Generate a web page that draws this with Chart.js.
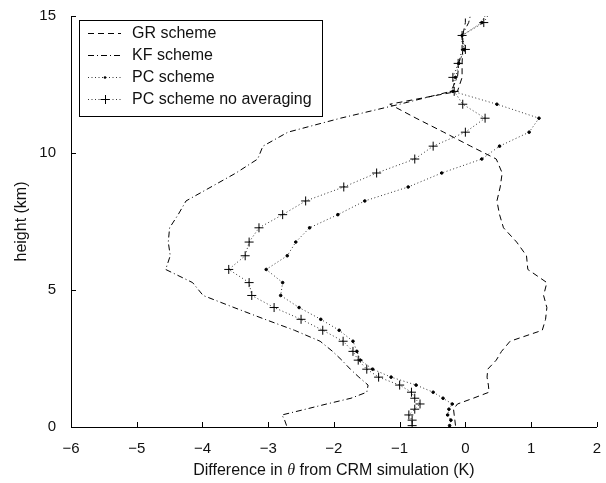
<!DOCTYPE html>
<html>
<head>
<meta charset="utf-8">
<script src="https://cdn.jsdelivr.net/npm/chart.js@4"></script>
<style>
html,body{margin:0;padding:0;background:#fff;}
#wrap{width:606px;height:483px;position:relative;}
</style>
</head>
<body>
<div id="wrap"><canvas id="c" width="606" height="483"></canvas></div>
<script>
// ---- data ----
const heights = [0.05, 0.25, 0.44, 0.65, 0.84, 1.05, 1.27, 1.53, 1.82, 2.11, 2.44, 2.76, 3.13, 3.53, 3.93, 4.36, 4.8, 5.27, 5.75, 6.25, 6.75, 7.27, 7.75, 8.25, 8.76, 9.27, 9.78, 10.25, 10.76, 11.27, 11.78, 12.25, 12.76, 13.27, 13.78, 14.29, 14.76, 15.25];
const grValues = [-0.15, -0.16, -0.17, -0.18, -0.12, 0.12, 0.36, 0.35, 0.33, 0.34, 0.47, 0.55, 0.68, 1.17, 1.22, 1.24, 1.19, 1.24, 0.95, 0.93, 0.78, 0.58, 0.52, 0.48, 0.53, 0.56, 0.47, 0.08, -0.33, -0.75, -1.15, -0.12, -0.05, -0.05, -0.04, -0.04, 0.0, 0.0];
const kfValues = [-2.72, -2.75, -2.79, -2.43, -2.11, -1.74, -1.5, -1.48, -1.62, -1.75, -1.88, -2.02, -2.21, -2.6, -3.05, -3.52, -3.99, -4.15, -4.56, -4.49, -4.52, -4.5, -4.37, -4.25, -3.87, -3.49, -3.16, -3.08, -2.7, -1.9, -1.0, -0.22, -0.12, -0.1, -0.05, -0.05, 0.05, 0.1];
const pcValues = [-0.24, -0.22, -0.27, -0.25, -0.2, -0.34, -0.49, -0.75, -1.13, -1.41, -1.6, -1.65, -1.71, -1.92, -2.2, -2.53, -2.81, -2.78, -3.03, -2.71, -2.58, -2.37, -1.94, -1.53, -0.87, -0.36, 0.25, 0.52, 0.97, 1.12, 0.48, -0.19, -0.15, -0.1, -0.02, -0.05, 0.25, 0.35];
const pcNoAvgValues = [-0.81, -0.81, -0.86, -0.77, -0.69, -0.77, -0.82, -1.0, -1.32, -1.5, -1.63, -1.71, -1.86, -2.17, -2.5, -2.91, -3.25, -3.29, -3.6, -3.35, -3.29, -3.14, -2.78, -2.43, -1.85, -1.35, -0.77, -0.49, 0.0, 0.3, -0.04, -0.17, -0.19, -0.11, 0.0, -0.05, 0.28, 0.4];
const seriesLabels = ['GR scheme', 'KF scheme', 'PC scheme', 'PC scheme no averaging'];
const xTicks = [-6, -5, -4, -3, -2, -1, 0, 1, 2];
const yTicks = [0, 5, 10, 15];
const xTitleParts = ['Difference in ', '\u03B8', ' from CRM simulation (K)'];
const yTitle = 'height (km)';

const FONT = '"Liberation Sans", Arial, Helvetica, sans-serif';
const toPts = vals => vals.map((v, i) => ({x: v, y: heights[i]}));

const styles = [
  {borderDash: [6, 4], pointRadius: 0, pointStyle: 'circle', color: '#000'},
  {borderDash: [6, 3, 1, 3], pointRadius: 0, pointStyle: 'circle', color: '#000'},
  {borderDash: [1, 2.5], pointRadius: 1.3, pointStyle: 'circle', color: '#333'},
  {borderDash: [1, 2.5], pointRadius: 4.5, pointStyle: 'cross', color: '#333'}
];
const allValues = [grValues, kfValues, pcValues, pcNoAvgValues];

const datasets = allValues.map((vals, i) => ({
  label: seriesLabels[i],
  data: toPts(vals),
  showLine: true,
  borderColor: styles[i].color,
  backgroundColor: '#000',
  borderWidth: 1,
  borderDash: styles[i].borderDash,
  pointRadius: styles[i].pointRadius,
  pointStyle: styles[i].pointStyle,
  pointBorderColor: '#000',
  pointBackgroundColor: '#000',
  pointBorderWidth: 1,
  tension: 0
}));

function drawSample(ctx, i, x0, x1, y) {
  const s = styles[i];
  ctx.save();
  ctx.strokeStyle = s.color;
  ctx.lineWidth = 1;
  ctx.setLineDash(s.borderDash);
  ctx.beginPath();
  ctx.moveTo(x0, y + 0.5);
  ctx.lineTo(x1, y + 0.5);
  ctx.stroke();
  ctx.setLineDash([]);
  const xm = Math.round((x0 + x1) / 2);
  if (s.pointStyle === 'cross' && s.pointRadius > 0) {
    ctx.strokeStyle = '#000';
    ctx.beginPath();
    ctx.moveTo(xm - 4.5, y + 0.5); ctx.lineTo(xm + 4.5, y + 0.5);
    ctx.moveTo(xm + 0.5, y - 4); ctx.lineTo(xm + 0.5, y + 5);
    ctx.stroke();
  } else if (s.pointRadius > 0) {
    ctx.fillStyle = '#000';
    ctx.beginPath();
    ctx.arc(xm, y + 0.5, s.pointRadius, 0, Math.PI * 2);
    ctx.fill();
  }
  ctx.restore();
}

const decorPlugin = {
  id: 'decor',
  afterDraw(chart) {
    const ctx = chart.ctx;
    const xs = chart.scales.x, ys = chart.scales.y;
    const a = chart.chartArea;
    ctx.save();
    // inward tick marks
    ctx.strokeStyle = '#000';
    ctx.lineWidth = 1;
    ctx.beginPath();
    xTicks.forEach(v => {
      const px = Math.round(xs.getPixelForValue(v)) + 0.5;
      ctx.moveTo(px, a.bottom);
      ctx.lineTo(px, a.bottom - 5);
    });
    yTicks.forEach(v => {
      const py = Math.round(ys.getPixelForValue(v)) + 0.5;
      ctx.moveTo(a.left, py);
      ctx.lineTo(a.left + 5, py);
    });
    ctx.stroke();

    // legend box
    const lx = 79.5, ly = 20.5, lw = 243, lh = 96;
    ctx.fillStyle = '#fff';
    ctx.fillRect(lx, ly, lw, lh);
    ctx.strokeStyle = '#000';
    ctx.strokeRect(lx, ly, lw, lh);
    const rows = [33, 55, 77, 99];
    ctx.font = '16px ' + FONT;
    ctx.fillStyle = '#111';
    ctx.textBaseline = 'middle';
    ctx.textAlign = 'left';
    seriesLabels.forEach((lab, i) => {
      drawSample(ctx, i, 88, 121, rows[i]);
      ctx.fillText(lab, 132, rows[i] + 1);
    });

    // x title with italic theta
    const fonts = ['16px ' + FONT, 'italic 16px "Liberation Serif", "Times New Roman", serif', '16px ' + FONT];
    let total = 0;
    const widths = xTitleParts.map((t, i) => { ctx.font = fonts[i]; const w = ctx.measureText(t).width; total += w; return w; });
    let x = (a.left + a.right) / 2 - total / 2;
    ctx.textBaseline = 'middle';
    xTitleParts.forEach((t, i) => {
      ctx.font = fonts[i];
      ctx.fillText(t, x, 471);
      x += widths[i];
    });

    // y title
    ctx.translate(22, (a.top + a.bottom) / 2);
    ctx.rotate(-Math.PI / 2);
    ctx.font = '16px ' + FONT;
    ctx.textAlign = 'center';
    ctx.textBaseline = 'middle';
    ctx.fillText(yTitle, 0, 0);
    ctx.restore();
  }
};

new Chart(document.getElementById('c'), {
  type: 'scatter',
  data: {datasets},
  options: {
    responsive: false,
    animation: false,
    events: [],
    layout: {padding: {top: 14, right: 9, left: 0, bottom: 0}},
    plugins: {legend: {display: false}, tooltip: {enabled: false}},
    scales: {
      x: {
        type: 'linear', min: -6, max: 2,
        afterBuildTicks: s => { s.ticks = xTicks.map(v => ({value: v})); },
        afterFit: s => { s.height = 56; },
        grid: {display: false},
        border: {display: true, color: '#000', width: 1},
        ticks: {
          color: '#111', padding: 5,
          font: {family: FONT, size: 15},
          maxRotation: 0,
          callback: v => (v < 0 ? '\u2212' + Math.abs(v) : String(v))
        }
      },
      y: {
        type: 'linear', min: 0, max: 15,
        afterBuildTicks: s => { s.ticks = yTicks.map(v => ({value: v})); },
        afterFit: s => { s.width = 71; },
        grid: {display: false},
        border: {display: true, color: '#000', width: 1},
        ticks: {
          color: '#111', padding: 7,
          font: {family: FONT, size: 15},
          callback: v => String(v)
        }
      }
    }
  },
  plugins: [decorPlugin]
});
</script>
</body>
</html>
